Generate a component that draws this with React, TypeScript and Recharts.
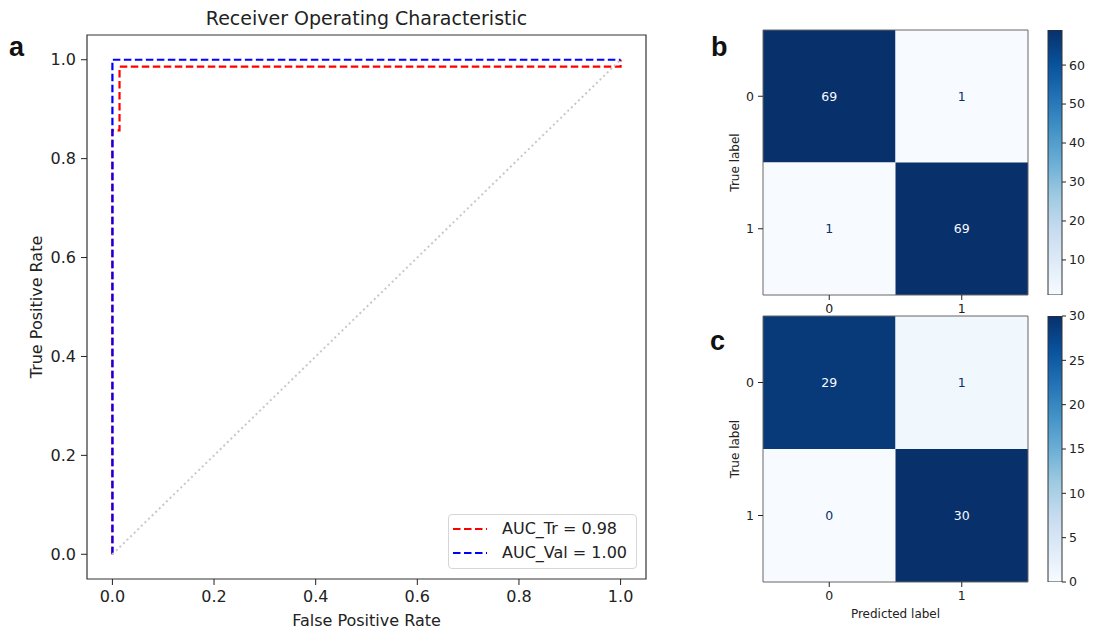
import React from 'react';
import {
  LineChart,
  Line,
  XAxis,
  YAxis,
  Legend,
  ReferenceArea,
  ComposedChart,
  Scatter,
  BarChart,
  Bar,
} from 'recharts';

const FONT = '"DejaVu Sans", "Liberation Sans", sans-serif';
const INK = '#222222';

// ---------- ROC data (panel a) ----------
const trFpr = [0, 0, 0.014, 0.014, 1, 1];
const trTpr = [0, 0.857, 0.857, 0.986, 0.986, 1];
const valFpr = [0, 0, 1];
const valTpr = [0, 1, 1];
const chanceFpr = [0, 1];
const chanceTpr = [0, 1];
const rocTicks = [0, 0.2, 0.4, 0.6, 0.8, 1.0];
const rocTitle = 'Receiver Operating Characteristic';
const trName = 'AUC_Tr = 0.98';
const valName = 'AUC_Val = 1.00';

// ---------- Confusion matrices (panels b, c) ----------
const classLabels = ['0', '1'];
const cmTrain = [
  [69, 1],
  [1, 69],
];
const cmVal = [
  [29, 1],
  [0, 30],
];
const cbTicksTrain = [10, 20, 30, 40, 50, 60];
const cbTicksVal = [0, 5, 10, 15, 20, 25, 30];

// matplotlib "Blues" colormap anchors
const BLUES = ['#f7fbff', '#deebf7', '#c6dbef', '#9ecae1', '#6baed6', '#4292c6', '#2171b5', '#08519c', '#08306b'];

const hexToRgb = (h: string) => [1, 3, 5].map((i) => parseInt(h.slice(i, i + 2), 16));
const blues = (t: number) => {
  const tt = Math.max(0, Math.min(1, t)) * (BLUES.length - 1);
  const i = Math.min(BLUES.length - 2, Math.floor(tt));
  const f = tt - i;
  const a = hexToRgb(BLUES[i]);
  const b = hexToRgb(BLUES[i + 1]);
  const c = a.map((v, k) => Math.round(v + (b[k] - v) * f));
  return `rgb(${c[0]},${c[1]},${c[2]})`;
};

const toPts = (xs: number[], ys: number[]) => xs.map((x, i) => ({ fpr: x, tpr: ys[i] }));
const f1 = (v: number) => v.toFixed(1);

const RocLegend = (props: any) => {
  const items = (props.payload || []).filter((p: any) => p.type !== 'none' && p.value);
  return (
    <div
      style={{
        position: 'relative',
        width: 189,
        height: 55,
        boxSizing: 'border-box',
        border: '1px solid #d6d6d6',
        borderRadius: 4,
        background: 'rgba(255,255,255,0.85)',
        fontFamily: FONT,
        fontSize: 16,
        color: INK,
      }}
    >
      {items.map((it: any, i: number) => (
        <div
          key={i}
          style={{ position: 'absolute', left: 4, top: 4 + i * 24, height: 20, display: 'flex', alignItems: 'center', whiteSpace: 'nowrap' }}
        >
          <svg width={34} height={20}>
            <line x1={0} y1={10} x2={34} y2={10} stroke={it.color} strokeWidth={2.2} strokeDasharray="7.5 3.5" />
          </svg>
          <span style={{ marginLeft: 15, lineHeight: '20px' }}>{it.value}</span>
        </div>
      ))}
    </div>
  );
};

const RocPanel = () => (
  <LineChart width={660} height={632} margin={{ top: 35, right: 14, left: 27, bottom: 13 }}>
    <XAxis
      dataKey="fpr"
      type="number"
      domain={[-0.05, 1.05]}
      ticks={rocTicks}
      tickFormatter={f1}
      allowDataOverflow
      axisLine={false}
      tickSize={6}
      tickMargin={6}
      tickLine={{ stroke: INK }}
      tick={{ fill: INK, fontSize: 16, fontFamily: FONT }}
      height={40}
      label={{
        content: ({ viewBox }: any) => (
          <text x={viewBox.x + viewBox.width / 2} y={viewBox.y + 47} textAnchor="middle" fill={INK} fontSize={16} fontFamily={FONT}>
            False Positive Rate
          </text>
        ),
      }}
    />
    <YAxis
      type="number"
      domain={[-0.05, 1.05]}
      ticks={rocTicks}
      tickFormatter={f1}
      allowDataOverflow
      axisLine={false}
      width={60}
      tickSize={6}
      tickMargin={5}
      tickLine={{ stroke: INK }}
      tick={{ fill: INK, fontSize: 16, fontFamily: FONT }}
      label={{
        content: ({ viewBox }: any) => {
          const x = viewBox.x + 9;
          const y = viewBox.y + viewBox.height / 2;
          return (
            <text x={x} y={y} transform={`rotate(-90, ${x}, ${y})`} textAnchor="middle" dominantBaseline="central" fill={INK} fontSize={16} fontFamily={FONT}>
              True Positive Rate
            </text>
          );
        },
      }}
    />
    <ReferenceArea x1={-0.05} x2={1.05} y1={-0.05} y2={1.05} fill="none" fillOpacity={0} stroke="#333" strokeWidth={1.2} ifOverflow="visible" />
    <Line
      data={toPts(trFpr, trTpr)}
      dataKey="tpr"
      name={trName}
      type="linear"
      stroke="#ff0000"
      strokeWidth={2.2}
      strokeDasharray="7.5 3.5"
      dot={false}
      activeDot={false}
      isAnimationActive={false}
    />
    <Line
      data={toPts(valFpr, valTpr)}
      dataKey="tpr"
      name={valName}
      type="linear"
      stroke="#0000ff"
      strokeWidth={2.2}
      strokeDasharray="7.5 3.5"
      dot={false}
      activeDot={false}
      isAnimationActive={false}
    />
    <Line
      data={toPts(chanceFpr, chanceTpr)}
      dataKey="tpr"
      name=""
      legendType="none"
      type="linear"
      stroke="#c8c8c8"
      strokeWidth={2}
      strokeDasharray="2 3"
      dot={false}
      activeDot={false}
      isAnimationActive={false}
    />
    <Legend
      layout="horizontal"
      verticalAlign="middle"
      align="center"
      content={<RocLegend />}
      wrapperStyle={{ left: 448, top: 514, width: 189, height: 55 }}
    />
  </LineChart>
);

type CMProps = {
  cm: number[][];
  width: number;
  height: number;
  margin: { top: number; right: number; left: number; bottom: number };
  xAxisHeight: number;
  showXLabel: boolean;
};

const ConfusionMatrix = ({ cm, width, height, margin, xAxisHeight, showXLabel }: CMProps) => {
  const flat = cm.flat();
  const vmin = Math.min(...flat);
  const vmax = Math.max(...flat);
  const thresh = (vmin + vmax) / 2;
  const cells = cm.flatMap((row, r) => row.map((v, c) => ({ x: c, y: r, count: v })));
  return (
    <ComposedChart width={width} height={height} margin={margin}>
      <XAxis
        dataKey="x"
        type="number"
        domain={[-0.5, 1.5]}
        ticks={[0, 1]}
        tickFormatter={(i: number) => classLabels[i]}
        axisLine={false}
        tickSize={5}
        tickMargin={4}
        tickLine={{ stroke: INK }}
        tick={{ fill: INK, fontSize: 12.5, fontFamily: FONT }}
        height={xAxisHeight}
        label={
          showXLabel
            ? {
                content: ({ viewBox }: any) => (
                  <text x={viewBox.x + viewBox.width / 2} y={viewBox.y + 35.5} textAnchor="middle" fill={INK} fontSize={12} fontFamily={FONT}>
                    Predicted label
                  </text>
                ),
              }
            : undefined
        }
      />
      <YAxis
        dataKey="y"
        type="number"
        domain={[-0.5, 1.5]}
        reversed
        ticks={[0, 1]}
        tickFormatter={(i: number) => classLabels[i]}
        axisLine={false}
        width={40}
        tickSize={5}
        tickMargin={4}
        tickLine={{ stroke: INK }}
        tick={{ fill: INK, fontSize: 12.5, fontFamily: FONT }}
        label={{
          content: ({ viewBox }: any) => {
            const x = viewBox.x + 12;
            const y = viewBox.y + viewBox.height / 2;
            return (
              <text x={x} y={y} transform={`rotate(-90, ${x}, ${y})`} textAnchor="middle" dominantBaseline="central" fill={INK} fontSize={12} fontFamily={FONT}>
                True label
              </text>
            );
          },
        }}
      />
      {cells.map((cell) => (
        <ReferenceArea
          key={`${cell.x}-${cell.y}`}
          x1={cell.x - 0.5}
          x2={cell.x + 0.5}
          y1={cell.y - 0.5}
          y2={cell.y + 0.5}
          fill={blues((cell.count - vmin) / (vmax - vmin))}
          fillOpacity={1}
          stroke="none"
          ifOverflow="visible"
        />
      ))}
      <ReferenceArea x1={-0.5} x2={1.5} y1={-0.5} y2={1.5} fill="none" fillOpacity={0} stroke="#666" strokeWidth={1} ifOverflow="visible" />
      <Scatter
        data={cells}
        isAnimationActive={false}
        shape={(p: any) => (
          <text
            x={p.cx}
            y={p.cy}
            textAnchor="middle"
            dominantBaseline="central"
            fontSize={12.5}
            fontFamily={FONT}
            fill={p.payload.count < thresh ? '#08306b' : '#f7fbff'}
          >
            {p.payload.count}
          </text>
        )}
      />
    </ComposedChart>
  );
};

type CBProps = {
  cm: number[][];
  ticks: number[];
  id: string;
  width: number;
  height: number;
  margin: { top: number; right: number; left: number; bottom: number };
};

const ColorBar = ({ cm, ticks, id, width, height, margin }: CBProps) => {
  const flat = cm.flat();
  const vmin = Math.min(...flat);
  const vmax = Math.max(...flat);
  const data = [{ name: 'cb', range: [vmin, vmax] }];
  return (
    <BarChart width={width} height={height} margin={margin} data={data} barCategoryGap={0}>
      <defs>
        <linearGradient id={id} x1="0" y1="1" x2="0" y2="0">
          {BLUES.map((c, i) => (
            <stop key={i} offset={`${(i / (BLUES.length - 1)) * 100}%`} stopColor={c} />
          ))}
        </linearGradient>
      </defs>
      <XAxis dataKey="name" hide />
      <YAxis
        orientation="right"
        type="number"
        domain={[vmin, vmax]}
        ticks={ticks}
        allowDataOverflow
        axisLine={false}
        width={31}
        tickSize={4}
        tickMargin={3}
        tickLine={{ stroke: INK }}
        tick={{ fill: INK, fontSize: 12.5, fontFamily: FONT }}
      />
      <Bar dataKey="range" fill={`url(#${id})`} stroke="#333" strokeWidth={1} isAnimationActive={false} />
    </BarChart>
  );
};

const panelLetter: React.CSSProperties = {
  position: 'absolute',
  fontFamily: '"Liberation Sans", Arial, sans-serif',
  fontWeight: 700,
  fontSize: 27,
  lineHeight: '27px',
  color: '#111',
};

export default function App() {
  return (
    <div style={{ position: 'absolute', left: 0, top: 0, width: 1093, height: 632, background: '#fff', overflow: 'hidden' }}>
      <div style={{ position: 'absolute', left: 0, top: 0 }}>
        <RocPanel />
      </div>
      <div
        style={{
          position: 'absolute',
          left: 87,
          width: 559,
          top: 9,
          textAlign: 'center',
          fontFamily: FONT,
          fontSize: 19,
          lineHeight: '19px',
          color: INK,
          whiteSpace: 'nowrap',
        }}
      >
        {rocTitle}
      </div>

      <div style={{ position: 'absolute', left: 700, top: 0 }}>
        <ConfusionMatrix cm={cmTrain} width={340} height={330} margin={{ top: 30, right: 12, left: 23, bottom: 5 }} xAxisHeight={30} showXLabel={false} />
      </div>
      <div style={{ position: 'absolute', left: 700, top: 300 }}>
        <ConfusionMatrix cm={cmVal} width={340} height={332} margin={{ top: 16, right: 12, left: 23, bottom: 5 }} xAxisHeight={45} showXLabel={true} />
      </div>

      <div style={{ position: 'absolute', left: 1040, top: 0 }}>
        <ColorBar cm={cmTrain} ticks={cbTicksTrain} id="cbTrain" width={53} height={330} margin={{ top: 30, right: 0, left: 8, bottom: 35 }} />
      </div>
      <div style={{ position: 'absolute', left: 1040, top: 300 }}>
        <ColorBar cm={cmVal} ticks={cbTicksVal} id="cbVal" width={53} height={332} margin={{ top: 16, right: 0, left: 8, bottom: 50 }} />
      </div>

      <div style={{ ...panelLetter, left: 9, top: 34 }}>a</div>
      <div style={{ ...panelLetter, left: 711, top: 34 }}>b</div>
      <div style={{ ...panelLetter, left: 710, top: 328 }}>c</div>
    </div>
  );
}
